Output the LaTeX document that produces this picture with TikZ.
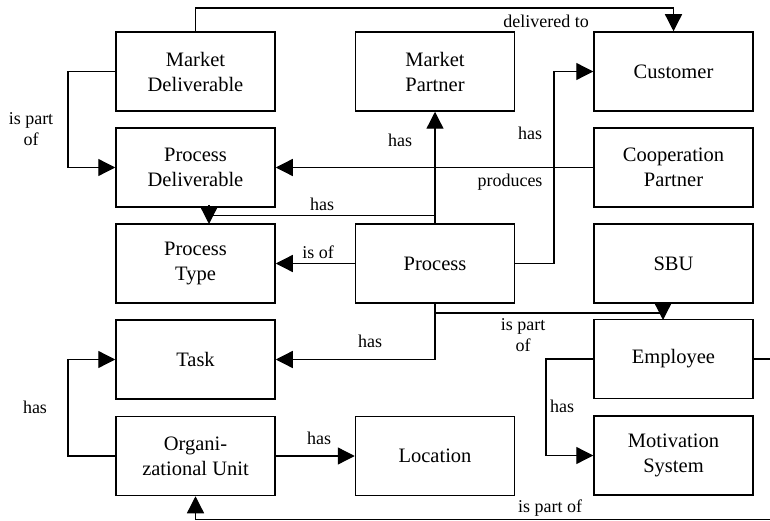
\documentclass[tikz,border=0pt]{standalone}
\usepackage{fontspec}
\setmainfont{Liberation Serif}
\usetikzlibrary{arrows.meta}
\newcommand{\boxfont}{\fontsize{20.5}{25}\selectfont}
\newcommand{\labfont}{\fontsize{18}{21}\selectfont}
\begin{document}
\begin{tikzpicture}[x=1pt,y=-1pt,
  box/.style={draw, line width=1.5pt, minimum width=159pt, minimum height=79pt, inner sep=0pt, align=center, font=\boxfont},
  lab/.style={font=\labfont, inner sep=0pt, align=center},
  conn/.style={line width=1.3pt},
  arr/.style={conn, -{Triangle[length=17pt,width=17pt]}}]
\clip (0,0) rectangle (770,521);
\fill[white] (0,0) rectangle (770,521);
% boxes
\node[box] (MD)  at (195.5,71.5)  {Market\\Deliverable};
\node[box] (MP)  at (435,71.5)    {Market\\Partner};
\node[box] (Cu)  at (673.5,71.5)  {Customer};
\node[box] (PD)  at (195.5,167.5) {Process\\Deliverable};
\node[box] (CP)  at (673.5,167.5) {Cooperation\\Partner};
\node[box] (PT)  at (195.5,263.5) {Process\\Type};
\node[box] (Pr)  at (435,263.5)   {Process};
\node[box] (SBU) at (673.5,263.5) {SBU};
\node[box] (Ta)  at (195.5,359.5) {Task};
\node[box] (Em)  at (673.5,359)   {Employee};
\node[box] (OU)  at (195.5,456)   {Organi-\\zational Unit};
\node[box] (Lo)  at (435,456)     {Location};
\node[box] (MS)  at (673.5,455.5) {Motivation\\System};
% connectors
\draw[arr] (MD.north) -- (195.5,8) -| (Cu.north);
\node[lab] (l1) at (546,21) {delivered to};
\draw[arr] (MD.west) -- (68,71.5) |- (PD.west);
\node[lab] (l2) at (31,129) {is part\\of};
\draw[arr] (CP.west) -- (PD.east);
\node[lab] (l3) at (510,182) {produces};
\draw[arr] (Pr.north) -- (MP.south);
\node[lab] (l4) at (400,140) {has};
\coordinate (j1) at (435,215.5);
\coordinate (t1) at (209,224);
\draw[conn] (j1) -- (209,215.5) -- (209,218);
\draw[arr] (209,205) -- (t1);
\node[lab] (l5) at (322,204) {has};
\draw[arr] (Pr.west) -- (PT.east);
\node[lab] (l6) at (318,252) {is of};
\draw[arr] (Pr.east) -- (554,263.5) |- (Cu.west);
\node[lab] (l7) at (530,133) {has};
\coordinate (t2) at (663,320);
\draw[conn] (Pr.south) -- (435,313) -- (663,313) -- (663,308);
\draw[arr] (663,303) -- (t2);
\node[lab] (l8) at (523,335) {is part\\of};
\draw[arr] (Pr.south) |- (Ta.east);
\node[lab] (l9) at (370,341) {has};
\draw[arr] (OU.west) -- (68,456) |- (Ta.west);
\node[lab] (l10) at (35,407) {has};
\draw[arr] (OU.east) -- (Lo.west);
\node[lab] (l11) at (319,438) {has};
\draw[arr] (Em.west) -- (546,359) |- (MS.west);
\node[lab] (l12) at (562,406) {has};
\draw[arr] (Em.east) -- (790,359) -- (790,519.5) -- (195.5,519.5) -- (OU.south);
\node[lab] (l13) at (550,508) {is part of};
\end{tikzpicture}
\end{document}
